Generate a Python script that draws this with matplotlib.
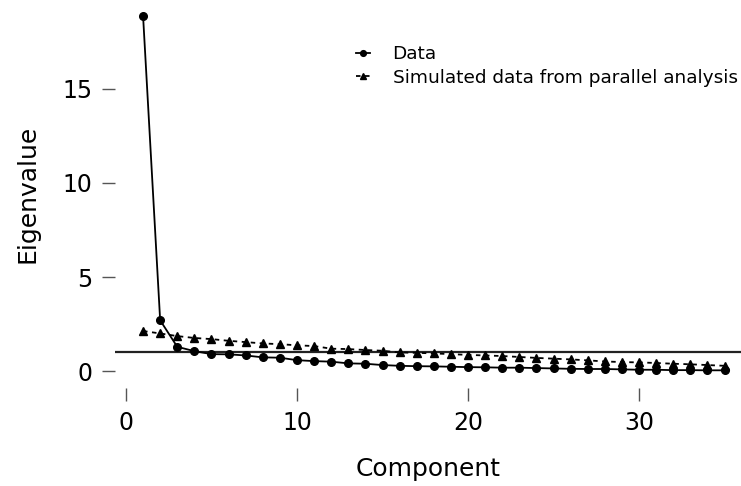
import matplotlib
matplotlib.use("Agg")
import matplotlib.pyplot as plt

components = list(range(1, 36))
data_eigen = [18.9, 2.7, 1.29, 1.06, 0.90, 0.89, 0.83, 0.73, 0.71, 0.58,
              0.53, 0.50, 0.41, 0.39, 0.32, 0.28, 0.26, 0.25, 0.23, 0.21,
              0.20, 0.18, 0.18, 0.16, 0.14, 0.12, 0.11, 0.11, 0.09, 0.07,
              0.07, 0.05, 0.05, 0.04, 0.04]
sim_eigen = [2.13, 2.00, 1.86, 1.76, 1.70, 1.61, 1.54, 1.47, 1.43, 1.37,
             1.33, 1.19, 1.17, 1.12, 1.08, 0.99, 0.97, 0.94, 0.90, 0.86,
             0.83, 0.80, 0.75, 0.70, 0.66, 0.62, 0.57, 0.51, 0.48, 0.46,
             0.43, 0.39, 0.36, 0.32, 0.28]
xticks = [0, 10, 20, 30]
yticks = [0, 5, 10, 15]

plt.rcParams['font.family'] = ['DejaVu Sans']
fig = plt.figure(figsize=(7.41, 4.86), dpi=100)
ax = fig.add_axes([115/741, (486-388)/486, (741-115)/741, 388/486])

ax.axhline(1, color='#222222', lw=1.6, zorder=1)
ax.plot(components, data_eigen, '-o', color='black', lw=1.3, ms=5.5, label='Data', zorder=3)
ax.plot(components, sim_eigen, linestyle=(0, (2.5, 2.5)), marker='^', color='black', lw=1.3, ms=6,
        label='Simulated data from parallel analysis', zorder=3)

ax.set_xlim(-0.64, 35.96)
ax.set_ylim(-0.9, 19.73)
ax.set_xticks(xticks)
ax.set_yticks(yticks)
for s in ax.spines.values():
    s.set_visible(False)
ax.tick_params(axis='both', direction='out', length=9.5, width=1, color='#555555',
               labelsize=17, pad=7)
ax.set_xlabel('Component', fontsize=18, labelpad=16)
ax.set_ylabel('Eigenvalue', fontsize=18, labelpad=16)

leg = ax.legend(loc='upper right', bbox_to_anchor=(745/741, 1 - 38/486),
                bbox_transform=fig.transFigure, borderaxespad=0, frameon=False,
                fontsize=13.3, handlelength=0.8, handletextpad=1.2, labelspacing=0.3,
                markerscale=0.75)

fig.savefig('out.png', dpi=100)
